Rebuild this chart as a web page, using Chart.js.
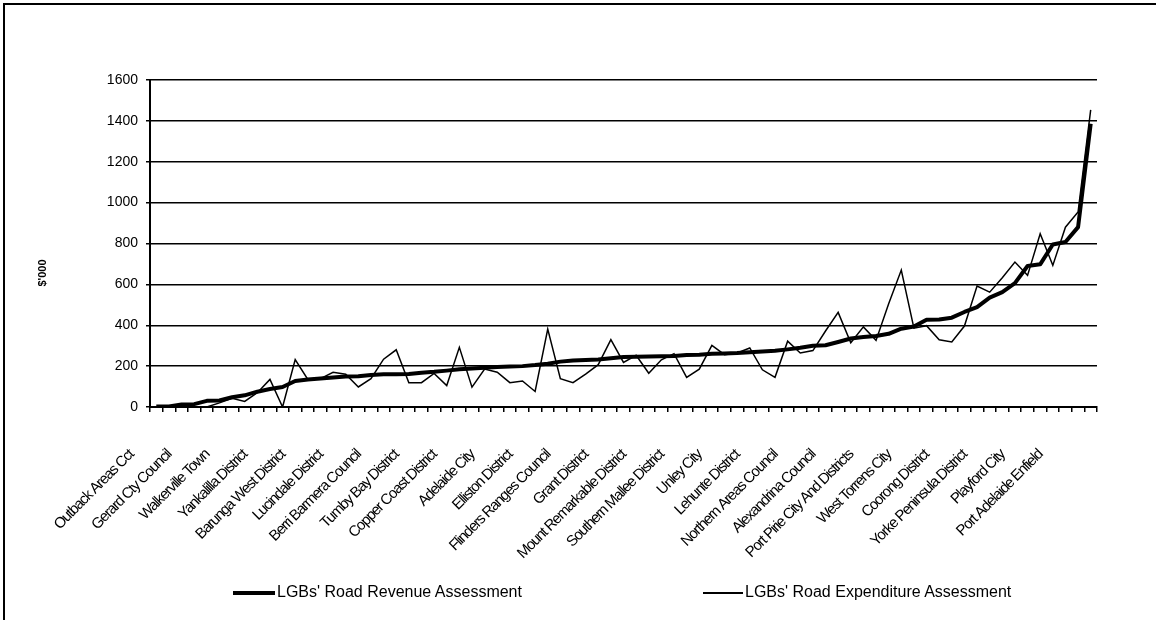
<!DOCTYPE html>
<html>
<head>
<meta charset="utf-8">
<title>LGBs' Road Assessments</title>
<script src="https://cdn.jsdelivr.net/npm/chart.js@4/dist/chart.umd.min.js"></script>
<style>
  body { margin: 0; background: #fff; }
  #wrap { position: relative; width: 1156px; height: 620px; overflow: hidden; font-family: "Liberation Sans", Arial, sans-serif; }
  #chart { position: absolute; left: 0; top: 0; }
  .frame { position: absolute; left: 3px; top: 3px; width: 1300px; height: 800px; border-left: 2px solid #000; border-top: 2px solid #000; }
  .ytitle { position: absolute; left: 42px; top: 273px; transform: translate(-50%, -50%) rotate(-90deg); font-weight: bold; font-size: 11px; white-space: nowrap; }
  .key { position: absolute; top: 583px; height: 18px; font-size: 16px; line-height: 18px; white-space: nowrap; }
  .key span { display: inline-block; vertical-align: middle; background: #000; margin-right: 2px; }
</style>
</head>
<body>
<div id="wrap">
  <canvas id="chart" width="1156" height="620"></canvas>
  <div class="frame"></div>
  <div class="ytitle">$'000</div>
  <div class="key" style="left:233px"><span style="width:42px;height:4px"></span>LGBs' Road Revenue Assessment</div>
  <div class="key" style="left:703px"><span style="width:40px;height:1.5px"></span>LGBs' Road Expenditure Assessment</div>
</div>
<script>
// councils, sorted by revenue assessment; only every third one gets a label on the axis
var named = ['Outback Areas Cct', 'Gerard Cty Council', 'Walkerville Town', 'Yankalilla District',
    'Barunga West District', 'Lucindale District', 'Berri Barmera Council', 'Tumby Bay District',
    'Copper Coast District', 'Adelaide City', 'Elliston District', 'Flinders Ranges Council',
    'Grant District', 'Mount Remarkable District', 'Southern Mallee District', 'Unley City',
    'Lehunte District', 'Northern Areas Council', 'Alexandrina Council', 'Port Pirie City And Districts',
    'West Torrens City', 'Coorong District', 'Yorke Peninsula District', 'Playford City',
    'Port Adelaide Enfield'];

var revenue = [2, 3, 12, 14, 30, 32, 48, 57, 75, 88,
    98, 127, 135, 139, 144, 149, 150, 157, 160, 160,
    162, 168, 172, 178, 185, 188, 192, 196, 198, 200,
    205, 212, 222, 228, 230, 232, 238, 245, 246, 247,
    248, 250, 254, 256, 260, 262, 264, 268, 272, 275,
    282, 290, 300, 302, 318, 335, 342, 347, 358, 383,
    394, 427, 428, 437, 465, 489, 535, 562, 606, 690,
    698, 795, 807, 880, 1386];

var expenditure = [0, 0, 0, 0, 0, 20, 43, 27, 70, 135,
    0, 232, 135, 139, 170, 160, 98, 139, 234, 280,
    119, 119, 164, 105, 292, 97, 186, 170, 119, 127,
    76, 381, 139, 119, 161, 207, 330, 218, 253, 165,
    231, 261, 145, 185, 301, 256, 264, 289, 182, 145,
    322, 264, 276, 372, 463, 314, 392, 326, 505, 670,
    386, 398, 329, 318, 396, 592, 562, 632, 709, 644,
    848, 693, 880, 954, 1454];

var yTicks = [0, 200, 400, 600, 800, 1000, 1200, 1400, 1600];

var categories = revenue.map(function (v, i) {
    return i % 3 === 0 ? named[i / 3] : '';
});

// the category labels are drawn tightly packed; x tick labels sit on layer z=1,
// i.e. after the datasets, so the spacing only touches them
var tightLabels = {
    id: 'tightLabels',
    afterDatasetsDraw: function (chart) { chart.ctx.letterSpacing = '-1.2px'; },
    afterDraw: function (chart) { chart.ctx.letterSpacing = '0px'; }
};

var ctx = document.getElementById('chart').getContext('2d');

var graph = new Chart(ctx, {
    type: 'line',
    data: {
        labels: categories,
        datasets: [
            {
                label: "LGBs' Road Revenue Assessment",
                data: revenue,
                borderColor: '#000',
                borderWidth: 4,
                borderJoinStyle: 'round',
                pointRadius: 0,
                tension: 0
            },
            {
                label: "LGBs' Road Expenditure Assessment",
                data: expenditure,
                borderColor: '#000',
                borderWidth: 1.5,
                pointRadius: 0,
                tension: 0
            }
        ]
    },
    plugins: [tightLabels],
    options: {
        responsive: false,
        animation: false,
        layout: { padding: { top: 80, right: 59, left: 0, bottom: 0 } },
        plugins: {
            legend: { display: false },
            tooltip: { enabled: false }
        },
        scales: {
            x: {
                offset: true,
                grid: { offset: true, drawOnChartArea: false, drawTicks: true, tickLength: 5, color: '#000', lineWidth: 1.5 },
                border: { display: true, color: '#000', width: 2 },
                ticks: {
                    z: 1,
                    autoSkip: false,
                    maxRotation: 45,
                    minRotation: 45,
                    padding: 34,
                    labelOffset: -25,
                    color: '#000',
                    font: { family: '"Liberation Sans", Arial', size: 15 }
                },
                afterFit: function (scale) { scale.height = 213; }
            },
            y: {
                min: 0,
                max: 1600,
                afterBuildTicks: function (scale) {
                    scale.ticks = yTicks.map(function (v) { return { value: v }; });
                },
                grid: { color: '#000', lineWidth: 1.5, tickLength: 4 },
                border: { display: true, color: '#000', width: 2 },
                ticks: {
                    padding: 8,
                    color: '#000',
                    font: { family: '"Liberation Sans", Arial', size: 14 },
                    callback: function (v) { return String(v); }
                },
                afterFit: function (scale) { scale.width = 150; }
            }
        }
    }
});
</script>
</body>
</html>
